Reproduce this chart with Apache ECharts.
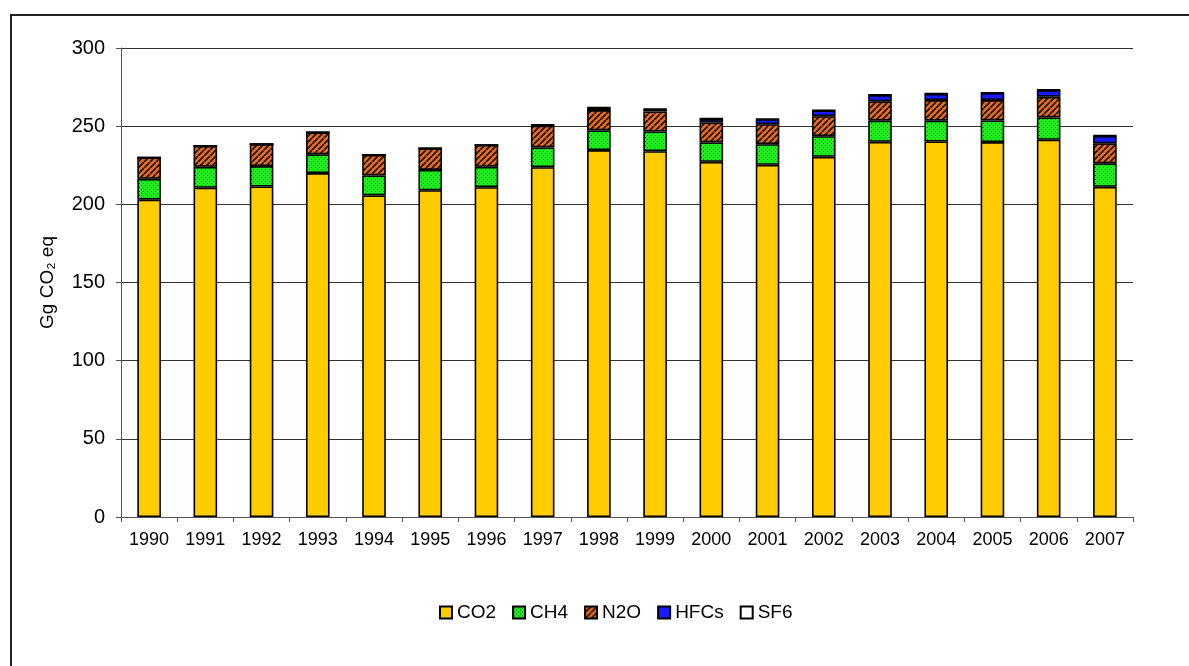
<!DOCTYPE html>
<html>
<head>
<meta charset="utf-8">
<title>Greenhouse gas emissions 1990–2007</title>
<script src="https://cdn.jsdelivr.net/npm/echarts@6/dist/echarts.min.js"></script>
<style>
  html, body { margin: 0; padding: 0; background: #fff; }
  #chart { width: 1189px; height: 666px; }
</style>
</head>
<body>
<div id="chart"></div>
<script>
// Years on the category axis
const years = ['1990','1991','1992','1993','1994','1995','1996','1997','1998',
               '1999','2000','2001','2002','2003','2004','2005','2006','2007'];

// Emissions by gas, Gg CO2 equivalent
const co2  = [203.0, 210.6, 211.4, 220.0, 205.7, 209.0, 211.0, 223.8, 234.7,
              234.0, 227.2, 225.3, 230.4, 240.0, 240.2, 239.8, 241.3, 211.2];
const ch4  = [13.3, 13.4, 13.1, 12.0, 12.8, 13.0, 13.0, 12.6, 12.6,
              12.6, 12.4, 13.2, 13.2, 13.5, 13.3, 13.9, 14.3, 15.0];
const n2o  = [13.7, 13.4, 14.0, 14.0, 13.2, 13.8, 14.0, 14.0, 13.0,
              12.8, 12.8, 12.8, 12.8, 12.4, 13.2, 13.0, 13.2, 12.8];
const hfcs = [0, 0, 0, 0, 0, 0, 0, 0.3, 1.5,
              1.5, 2.3, 3.2, 3.7, 4.0, 4.0, 4.5, 4.3, 4.8];
const sf6  = [0, 0, 0, 0, 0, 0, 0, 0.2, 0.2,
              0.2, 0.2, 0.2, 0.2, 0.2, 0.2, 0.2, 0.2, 0.3];

// Y axis scale
const yMin = 0, yMax = 300, yStep = 50;

// Fill patterns: dotted green for CH4, hatched orange for N2O
function dotPattern() {
  const c = document.createElement('canvas');
  c.width = 4; c.height = 4;
  const g = c.getContext('2d');
  g.fillStyle = '#22ee22';
  g.fillRect(0, 0, 4, 4);
  g.fillStyle = '#0a4a0a';
  g.fillRect(1, 1, 1, 1);
  g.fillRect(3, 3, 1, 1);
  return { image: c, repeat: 'repeat' };
}
function hatchPattern() {
  const s = 6;
  const c = document.createElement('canvas');
  c.width = s; c.height = s;
  const g = c.getContext('2d');
  g.fillStyle = '#ee6a1c';
  g.fillRect(0, 0, s, s);
  g.strokeStyle = '#1a1a1a';
  g.lineWidth = 1.8;
  g.beginPath();
  for (let k = -1; k <= 1; k++) {
    g.moveTo(k * s, s);
    g.lineTo(k * s + s, 0);
  }
  g.stroke();
  return { image: c, repeat: 'repeat' };
}

const font = '"Liberation Sans", Arial, sans-serif';
const border = { borderColor: '#000', borderWidth: 1.6 };

function stackSeries(name, data, color) {
  return {
    name: name,
    type: 'bar',
    stack: 'total',
    data: data,
    barWidth: '42%',
    itemStyle: Object.assign({ color: color }, border),
    emphasis: { disabled: true }
  };
}

const chart = echarts.init(document.getElementById('chart'), null, { renderer: 'canvas' });

chart.setOption({
  animation: false,
  backgroundColor: '#fff',
  textStyle: { fontFamily: font, color: '#000' },
  grid: { left: 121, right: 56, top: 48, bottom: 149 },
  legend: {
    left: 434,
    top: 598,
    itemWidth: 12,
    itemHeight: 12,
    itemGap: 16,
    icon: 'rect',
    textStyle: { fontFamily: font, fontSize: 19, color: '#000' },
    data: ['CO2', 'CH4', 'N2O', 'HFCs', 'SF6']
  },
  xAxis: {
    type: 'category',
    data: years,
    axisLine: { lineStyle: { color: '#555', width: 1 } },
    axisTick: { show: true, length: 5, lineStyle: { color: '#555' } },
    axisLabel: { fontFamily: font, fontSize: 18, color: '#000', margin: 14 }
  },
  yAxis: {
    type: 'value',
    min: yMin,
    max: yMax,
    interval: yStep,
    name: 'Gg CO₂ eq',
    nameLocation: 'middle',
    nameGap: 64,
    nameRotate: 90,
    nameTextStyle: { fontFamily: font, fontSize: 19, color: '#000' },
    axisLine: { show: true, lineStyle: { color: '#555', width: 1 } },
    axisTick: { show: true, length: 5, lineStyle: { color: '#555' } },
    axisLabel: { fontFamily: font, fontSize: 20, color: '#000', margin: 16 },
    splitLine: { show: true, lineStyle: { color: '#333', width: 1 } }
  },
  graphic: [{
    type: 'rect',
    shape: { x: 11, y: 15, width: 1400, height: 900 },
    style: { fill: 'none', stroke: '#222', lineWidth: 2 },
    silent: true
  }],
  series: [
    stackSeries('CO2', co2, '#ffcc00'),
    stackSeries('CH4', ch4, dotPattern()),
    stackSeries('N2O', n2o, hatchPattern()),
    stackSeries('HFCs', hfcs, '#1a1aff'),
    stackSeries('SF6', sf6, '#ffffff')
  ]
});
</script>
</body>
</html>
